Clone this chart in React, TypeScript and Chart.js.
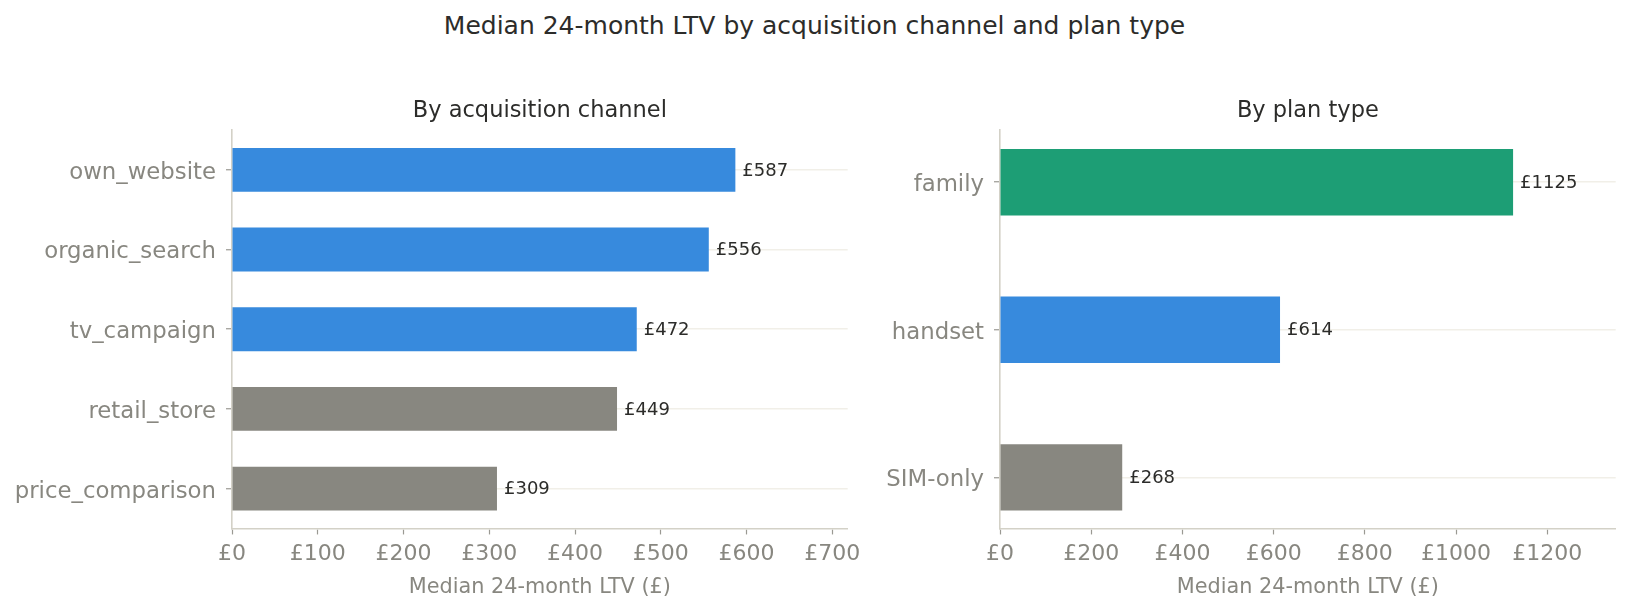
import { useEffect, useRef } from 'react';
import { Chart, registerables, Plugin } from 'chart.js';

Chart.register(...registerables);

const channels = ['own_website', 'organic_search', 'tv_campaign', 'retail_store', 'price_comparison'];
const channelLtv = [587, 556, 472, 449, 309];

const planTypes = ['family', 'handset', 'SIM-only'];
const planLtv = [1125, 614, 268];

const BLUE = '#378ADD';
const GREEN = '#1D9E75';
const GRAY = '#888780';
const INK = '#2C2C2A';
const MUTED = '#888780';
const SPINE = '#D3D1C7';
const GRID = '#F1EFE8';
const TICK = '#9A9993';
const FONT = '"DejaVu Sans", sans-serif';

const channelColors = [BLUE, BLUE, BLUE, GRAY, GRAY];
const planColors = [GREEN, BLUE, GRAY];

Chart.defaults.font.family = FONT;

// writes "£value" just past the end of each bar
const valueLabels: Plugin<'bar'> = {
  id: 'valueLabels',
  afterDatasetsDraw(chart) {
    const { ctx } = chart;
    const meta = chart.getDatasetMeta(0);
    ctx.save();
    ctx.font = `18px ${FONT}`;
    ctx.fillStyle = INK;
    ctx.textBaseline = 'middle';
    ctx.textAlign = 'left';
    meta.data.forEach((bar, i) => {
      const point = chart.data.datasets[0].data[i] as { x: number };
      ctx.fillText(`£${point.x}`, bar.x + 7, bar.y + 1);
    });
    ctx.restore();
  },
};

interface PanelProps {
  title: string;
  labels: string[];
  values: number[];
  colors: string[];
  xMax: number;
  xStep: number;
  yMin: number;
  yMax: number;
  barPct: number;
  width: number;
  left: number;
  axisWidth: number;
  padRight: number;
}

const Panel: React.FC<PanelProps> = (p) => {
  const canvasRef = useRef<HTMLCanvasElement | null>(null);

  useEffect(() => {
    if (!canvasRef.current) return;

    const chart = new Chart(canvasRef.current, {
      type: 'bar',
      data: {
        datasets: [
          {
            data: p.values.map((v, i) => ({ x: v, y: i })),
            backgroundColor: p.colors,
            borderWidth: 0,
            categoryPercentage: 1,
            barPercentage: p.barPct,
          },
        ],
      },
      options: {
        indexAxis: 'y',
        responsive: false,
        animation: false,
        events: [],
        layout: { padding: { left: 0, right: p.padRight, top: 0, bottom: 10.2 } },
        plugins: {
          legend: { display: false },
          tooltip: { enabled: false },
          title: {
            display: true,
            text: p.title,
            fullSize: false,
            color: INK,
            font: { size: 22.5, weight: 'normal' },
            padding: { top: 98, bottom: 5 },
          },
        },
        scales: {
          x: {
            type: 'linear',
            min: 0,
            max: p.xMax,
            border: { color: SPINE, width: 1.6 },
            grid: { drawOnChartArea: false, drawTicks: true, tickLength: 6, tickColor: TICK, tickWidth: 1.2 },
            ticks: {
              stepSize: p.xStep,
              includeBounds: false,
              autoSkip: false,
              maxRotation: 0,
              color: MUTED,
              font: { size: 22 },
              padding: 7,
              callback: (v) => `£${v}`,
            },
            title: {
              display: true,
              text: 'Median 24-month LTV (£)',
              color: MUTED,
              font: { size: 20.8 },
              padding: { top: 0, bottom: 0 },
            },
          },
          y: {
            type: 'linear',
            reverse: true,
            offset: false,
            min: p.yMin,
            max: p.yMax,
            afterBuildTicks: (scale) => {
              scale.ticks = p.labels.map((_, i) => ({ value: i }));
            },
            afterFit: (scale) => {
              scale.width = p.axisWidth;
            },
            border: { color: SPINE, width: 1.6 },
            grid: { offset: false, color: GRID, lineWidth: 1.5, tickLength: 6, tickColor: TICK, tickWidth: 1.2 },
            ticks: {
              autoSkip: false,
              color: MUTED,
              font: { size: 22.8 },
              padding: 10,
              labelOffset: 3,
              callback: (v) => p.labels[Number(v)] ?? '',
            },
          },
        },
      },
      plugins: [valueLabels],
    });

    return () => {
      chart.destroy();
    };
  }, [p]);

  return (
    <canvas
      ref={canvasRef}
      width={p.width}
      height={610}
      style={{ position: 'absolute', left: p.left, top: 0, width: p.width, height: 610 }}
    />
  );
};

const channelPanel: PanelProps = {
  title: 'By acquisition channel',
  labels: channels,
  values: channelLtv,
  colors: channelColors,
  xMax: 718,
  xStep: 100,
  yMin: -0.5,
  yMax: 4.5,
  barPct: 0.55,
  width: 870,
  left: 0,
  axisWidth: 232,
  padRight: 22.3,
};

const planPanel: PanelProps = {
  title: 'By plan type',
  labels: planTypes,
  values: planLtv,
  colors: planColors,
  xMax: 1350,
  xStep: 200,
  yMin: -0.354,
  yMax: 2.346,
  barPct: 0.45,
  width: 759,
  left: 870,
  axisWidth: 130,
  padRight: 13.3,
};

export default function App() {
  return (
    <div style={{ position: 'absolute', left: 0, top: 0, width: 1629, height: 610, background: '#fff', fontFamily: FONT }}>
      <div
        style={{
          position: 'absolute',
          left: 0,
          top: 11,
          width: 1629,
          textAlign: 'center',
          fontSize: 25,
          lineHeight: '30px',
          color: INK,
        }}
      >
        Median 24-month LTV by acquisition channel and plan type
      </div>
      <Panel {...channelPanel} />
      <Panel {...planPanel} />
    </div>
  );
}
